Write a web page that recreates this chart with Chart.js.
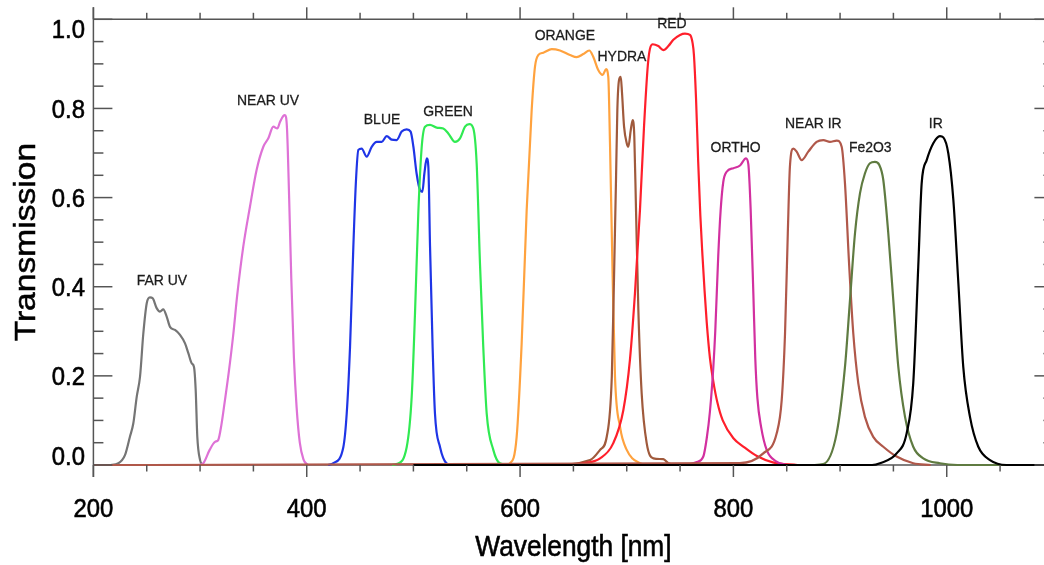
<!DOCTYPE html>
<html>
<head>
<meta charset="utf-8">
<title>Filter transmission curves</title>
<script src="https://cdn.jsdelivr.net/npm/chart.js@4.4.1/dist/chart.umd.min.js"></script>
<style>
  html, body { margin: 0; padding: 0; background: #fff; overflow: hidden; }
  #wrap { width: 1044px; height: 565px; overflow: hidden; }
</style>
</head>
<body>
<div id="wrap"><canvas id="filters" width="1070" height="565"></canvas></div>
<script>
// Transmission curves, wavelength in nm against transmission
const farUvNm = [215, 223.4, 229.6, 234.3, 237.4, 240.6, 243.7, 246.8, 250, 253, 255.6, 259.3, 262.4, 265.5, 268.7, 271.8, 276.5, 281.2, 285.9, 289, 292.2, 294.3, 295.9, 297.4, 300, 302.5];
const farUvT = [0, 0.004, 0.022, 0.064, 0.093, 0.153, 0.198, 0.295, 0.363, 0.376, 0.374, 0.352, 0.344, 0.349, 0.333, 0.31, 0.303, 0.292, 0.273, 0.251, 0.228, 0.22, 0.168, 0.064, 0.011, 0];

const nearUvNm = [298, 303, 309, 314, 317, 320, 323, 327, 331, 335, 340.5, 346.8, 353, 359.3, 364, 368.7, 372.4, 375, 378, 379.6, 381.5, 383.5, 385.5, 388, 390.5, 393.5, 397, 401];
const nearUvT = [0, 0.004, 0.034, 0.052, 0.056, 0.09, 0.14, 0.21, 0.29, 0.385, 0.49, 0.58, 0.662, 0.714, 0.733, 0.759, 0.755, 0.77, 0.783, 0.785, 0.755, 0.6, 0.42, 0.24, 0.13, 0.05, 0.012, 0];

const blueNm = [420, 425, 434.3, 437.5, 440.6, 443.7, 446.2, 448.4, 451.5, 456.2, 460.9, 465.6, 470.3, 475, 479.6, 484.3, 489, 493.7, 497.4, 500, 503, 506.2, 508.4, 510.3, 512.5, 514, 515.6, 518, 520.2, 525, 531, 536];
const blueT = [0, 0.004, 0.04, 0.116, 0.265, 0.49, 0.64, 0.707, 0.71, 0.692, 0.714, 0.725, 0.725, 0.738, 0.73, 0.729, 0.748, 0.753, 0.748, 0.714, 0.654, 0.617, 0.613, 0.654, 0.688, 0.67, 0.49, 0.265, 0.116, 0.04, 0.004, 0];

const greenNm = [480, 484.3, 493.7, 498.4, 501.5, 504.6, 507.8, 510.9, 515.6, 521.8, 528, 532.7, 539, 543.7, 548.4, 552.4, 556.2, 559.3, 562.4, 565.5, 568.7, 574.9, 581, 590];
const greenT = [0, 0.002, 0.04, 0.153, 0.34, 0.565, 0.714, 0.759, 0.763, 0.757, 0.755, 0.744, 0.725, 0.733, 0.759, 0.765, 0.755, 0.677, 0.453, 0.265, 0.116, 0.034, 0.004, 0];

const orangeNm = [585, 590.6, 596.8, 601.5, 606.2, 610.9, 614, 617.2, 621.8, 629.7, 637.4, 646.8, 653, 659.2, 664.9, 668.6, 673.3, 677.4, 680.6, 682.7, 684.3, 686.8, 689, 693.7, 700, 712.4, 720];
const orangeT = [0, 0.004, 0.063, 0.273, 0.572, 0.797, 0.894, 0.92, 0.925, 0.933, 0.93, 0.92, 0.915, 0.922, 0.93, 0.916, 0.886, 0.875, 0.888, 0.871, 0.722, 0.422, 0.198, 0.086, 0.034, 0.004, 0];

const hydraNm = [600, 628, 665.6, 675, 681.3, 686, 688.1, 690, 691.2, 692.8, 694.4, 695.6, 697.5, 700, 701.5, 703.8, 705.6, 707.1, 708.7, 710.9, 714, 718.7, 725, 734.3, 739, 747];
const hydraT = [0, 0, 0.011, 0.034, 0.064, 0.198, 0.422, 0.647, 0.797, 0.864, 0.871, 0.834, 0.759, 0.722, 0.714, 0.752, 0.774, 0.737, 0.572, 0.348, 0.161, 0.049, 0.015, 0.013, 0.004, 0];

const redNm = [600, 628, 659, 675, 687.4, 696.8, 703, 707.7, 712.4, 716.2, 720.2, 724.3, 729.6, 734.3, 739, 743.7, 750, 754.6, 759.3, 761.8, 763, 765, 767, 769, 771, 773, 775, 778, 781, 785, 790, 800, 810, 822, 837, 860];
const redT = [0, 0, 0.004, 0.015, 0.049, 0.123, 0.236, 0.385, 0.572, 0.759, 0.908, 0.944, 0.94, 0.931, 0.94, 0.954, 0.965, 0.968, 0.965, 0.946, 0.92, 0.82, 0.68, 0.56, 0.47, 0.39, 0.32, 0.24, 0.19, 0.14, 0.1, 0.06, 0.04, 0.02, 0.006, 0];

const orthoNm = [755, 765, 771.8, 775, 778, 781.2, 783, 785.8, 788, 790.5, 793.7, 800, 806.2, 811.8, 814, 816.2, 818.7, 820.5, 822.5, 826, 831.2, 840, 850];
const orthoT = [0, 0.006, 0.019, 0.06, 0.12, 0.22, 0.3, 0.47, 0.57, 0.635, 0.658, 0.666, 0.672, 0.688, 0.675, 0.572, 0.385, 0.24, 0.15, 0.085, 0.034, 0.008, 0];

const nearIrNm = [200, 806, 828, 840.6, 845.3, 848.4, 851, 853, 856.2, 859.3, 864, 870.2, 878, 884.3, 890.5, 896.8, 901.5, 904.6, 908.6, 912.4, 917.1, 923.3, 931.1, 940.5, 953, 968.6, 985];
const nearIrT = [0, 0.004, 0.026, 0.071, 0.146, 0.295, 0.52, 0.67, 0.71, 0.703, 0.684, 0.703, 0.725, 0.729, 0.725, 0.728, 0.714, 0.632, 0.445, 0.295, 0.183, 0.108, 0.063, 0.041, 0.019, 0.004, 0];

const fe2o3Nm = [875, 884.3, 896.8, 904.6, 909.3, 914, 918.7, 923.3, 928, 932.7, 936.8, 940.5, 945.2, 949.9, 954.6, 960.9, 968.6, 978, 993.6, 1010, 1100];
const fe2o3T = [0, 0.002, 0.071, 0.22, 0.37, 0.52, 0.61, 0.654, 0.677, 0.68, 0.673, 0.64, 0.52, 0.37, 0.22, 0.108, 0.041, 0.015, 0.004, 0, 0];

const irNm = [500, 930, 937.4, 953, 962.4, 968.6, 973.3, 976.5, 981.2, 987.4, 993.6, 996.8, 1001.5, 1006.2, 1010.9, 1015.5, 1021.8, 1029.6, 1040.6, 1056, 1100];
const irT = [0, 0, 0.004, 0.026, 0.071, 0.183, 0.445, 0.632, 0.684, 0.722, 0.738, 0.735, 0.699, 0.595, 0.408, 0.22, 0.108, 0.041, 0.011, 0, 0];

const filterNames = ["FAR UV", "NEAR UV", "BLUE", "GREEN", "ORANGE", "HYDRA", "RED", "ORTHO", "NEAR IR", "Fe2O3", "IR"];
const filterNm = [farUvNm, nearUvNm, blueNm, greenNm, orangeNm, hydraNm, redNm, orthoNm, nearIrNm, fe2o3Nm, irNm];
const filterT = [farUvT, nearUvT, blueT, greenT, orangeT, hydraT, redT, orthoT, nearIrT, fe2o3T, irT];
const filterColors = ["#757575", "#de72d6", "#1f35e6", "#30ea52", "#ffa23e", "#a05a3c", "#ff1f2b", "#d2309f", "#b0584a", "#5f7b41", "#000000"];

// where each filter name sits (nm, transmission)
const labelNm = [264.3, 363.7, 470.6, 532.5, 642.0, 695.5, 742.4, 802.1, 874.9, 928.3, 989.7];
const labelT = [0.413, 0.817, 0.774, 0.792, 0.963, 0.915, 0.989, 0.712, 0.765, 0.712, 0.765];

const xMin = 200, xMax = 1100, xStep = 200, xMinor = 50;
const yMin = 0, yMax = 1.0, yStep = 0.2, yMinor = 0.05;

const axisColor = "#555";
const fontFamily = '"Liberation Sans", Arial, Helvetica, sans-serif';

// text drawn slightly narrow and heavy, like the old plotting fonts
function narrowText(ctx, text, x, y, size, align, baseline, squeeze, rotated, weight) {
  ctx.save();
  ctx.translate(x, y);
  ctx.scale(squeeze, 1);
  if (rotated) ctx.rotate(-Math.PI / 2);
  ctx.font = size + "px " + fontFamily;
  ctx.textAlign = align;
  ctx.textBaseline = baseline;
  ctx.fillText(text, 0, 0);
  if (weight) {
    ctx.strokeStyle = ctx.fillStyle;
    ctx.lineWidth = weight;
    ctx.strokeText(text, 0, 0);
  }
  ctx.restore();
}

function seg(ctx, x1, y1, x2, y2) {
  ctx.beginPath();
  ctx.moveTo(x1, y1);
  ctx.lineTo(x2, y2);
  ctx.stroke();
}

// box axes with ticks, tick labels, titles and filter names
const boxAxes = {
  id: "boxAxes",
  beforeDatasetsDraw(chart) {
    const { ctx, chartArea: a, scales: { y } } = chart;
    ctx.save();
    ctx.strokeStyle = axisColor;
    ctx.lineWidth = 1.5;
    const y0 = y.getPixelForValue(0);
    seg(ctx, a.left, y0, a.right, y0);
    ctx.restore();
  },
  afterDatasetsDraw(chart) {
    const { ctx, chartArea: a, scales: { x, y } } = chart;
    const top = y.getPixelForValue(yMax);
    const bottom = y.getPixelForValue(0);
    const left = a.left, right = a.right;
    const majorX = 12, minorX = 6.5, majorY = 19, minorY = 10;

    ctx.save();
    ctx.strokeStyle = axisColor;
    ctx.lineWidth = 1.5;
    seg(ctx, left, top - majorX, left, bottom + majorX);
    seg(ctx, right, top - majorX, right, bottom + majorX);
    seg(ctx, left, top, right, top);

    for (let v = xMin; v <= xMax + 1e-6; v += xMinor) {
      const px = x.getPixelForValue(v);
      const len = (v - xMin) % xStep === 0 ? majorX : minorX;
      seg(ctx, px, bottom, px, bottom + len);
      seg(ctx, px, top, px, top - len);
    }
    for (let i = 0; i * yMinor <= yMax + 1e-6; i++) {
      const v = i * yMinor;
      const py = y.getPixelForValue(v);
      const len = i % Math.round(yStep / yMinor) === 0 ? majorY : minorY;
      seg(ctx, left, py, left + len, py);
      seg(ctx, right, py, right - len, py);
    }
    ctx.restore();

    ctx.save();
    ctx.fillStyle = "#000";
    const tickSize = 26.5, capH = tickSize * 0.716;
    x.ticks.forEach(t => {
      narrowText(ctx, String(t.value), x.getPixelForValue(t.value), bottom + 52, tickSize, "center", "alphabetic", 0.9, false, 0.6);
    });
    // end labels are kept inside the span of the axis
    y.ticks.forEach(t => {
      let cy = y.getPixelForValue(t.value);
      cy = Math.min(Math.max(cy, top + capH / 2), bottom - capH / 2);
      narrowText(ctx, t.value.toFixed(1), left - 8.5, cy + capH / 2, tickSize, "right", "alphabetic", 0.9, false, 0.6);
    });
    narrowText(ctx, "Wavelength [nm]", (left + right) / 2, bottom + 91, 29.2, "center", "alphabetic", 0.9, false, 0.6);
    narrowText(ctx, "Transmission", 35, (top + bottom) / 2, 33.6, "center", "alphabetic", 0.87, true, 0.6);

    ctx.fillStyle = "#1c1c1c";
    filterNames.forEach((name, i) => {
      narrowText(ctx, name, x.getPixelForValue(labelNm[i]), y.getPixelForValue(labelT[i]), 15.5, "center", "middle", 0.9, false, 0.3);
    });
    ctx.restore();
  }
};

const datasets = filterNames.map((name, i) => ({
  label: name,
  data: filterNm[i].map((nm, j) => ({ x: nm, y: filterT[i][j] })),
  borderColor: filterColors[i],
  borderWidth: 2.2,
  pointRadius: 0,
  fill: false,
  cubicInterpolationMode: "monotone",
  clip: 4,
  order: filterNames.length - i
}));

new Chart(document.getElementById("filters"), {
  type: "line",
  data: { datasets },
  options: {
    responsive: false,
    animation: false,
    events: [],
    layout: { padding: { left: 93.4, top: 19.3, right: 16.6, bottom: 100 } },
    plugins: { legend: { display: false }, tooltip: { enabled: false } },
    scales: {
      x: {
        type: "linear",
        display: false,
        min: xMin,
        max: xMax,
        ticks: { stepSize: xStep, includeBounds: false }
      },
      y: {
        type: "linear",
        display: false,
        min: yMin,
        max: yMax,
        ticks: { stepSize: yStep }
      }
    }
  },
  plugins: [boxAxes]
});
</script>
</body>
</html>
